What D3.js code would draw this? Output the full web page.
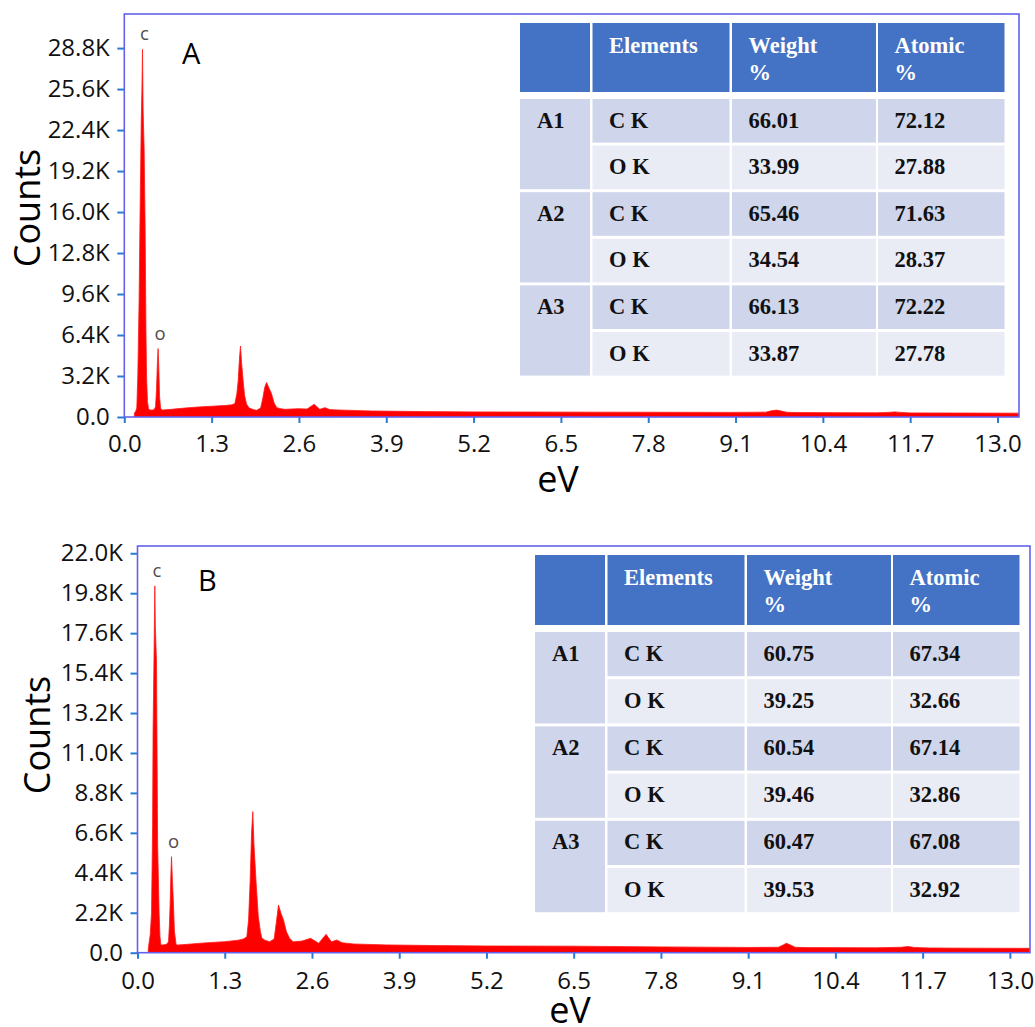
<!DOCTYPE html>
<html>
<head>
<meta charset="utf-8">
<script src="https://cdn.jsdelivr.net/npm/d3@7"></script>
<style>
  html, body { margin: 0; padding: 0; background: #fff; }
  svg { display: block; }
</style>
</head>
<body>
<svg id="chart" width="1035" height="1027"></svg>
<script>
// ---------- EDS spectrum A (energy in eV, intensity in counts) ----------
const energyA = [0.150, 0.170, 0.186, 0.201, 0.220, 0.235, 0.252, 0.262, 0.271, 0.280, 0.295, 0.310, 0.322, 0.331, 0.345, 0.360, 0.380, 0.420, 0.445, 0.465, 0.480, 0.493, 0.503, 0.513, 0.525, 0.540, 0.560, 0.700, 0.900, 1.100, 1.300, 1.500, 1.600, 1.646, 1.675, 1.695, 1.715, 1.730, 1.745, 1.770, 1.790, 1.820, 1.860, 1.920, 1.970, 2.030, 2.060, 2.090, 2.118, 2.150, 2.190, 2.230, 2.270, 2.330, 2.390, 2.590, 2.720, 2.827, 2.910, 2.986, 3.060, 3.180, 3.680, 4.500, 5.200, 6.000, 7.000, 8.000, 9.000, 9.550, 9.630, 9.710, 9.780, 9.860, 10.000, 10.600, 11.200, 11.370, 11.470, 11.560, 11.700, 12.500, 13.320];
const countsA = [300, 450, 700, 3200, 9000, 16000, 23000, 25500, 28700, 24000, 21000, 15000, 7000, 3200, 1200, 650, 550, 540, 580, 800, 2200, 4300, 5340, 4000, 1600, 700, 540, 600, 700, 780, 840, 900, 950, 1050, 1800, 2800, 4600, 5540, 4300, 2800, 1700, 1000, 700, 580, 520, 700, 1400, 2300, 2700, 2300, 1850, 1100, 730, 650, 600, 650, 620, 1000, 600, 730, 580, 550, 470, 420, 400, 390, 380, 370, 360, 380, 480, 540, 470, 370, 350, 340, 330, 360, 400, 360, 320, 310, 300];

// ---------- EDS spectrum B ----------
const energyB = [0.160, 0.168, 0.190, 0.209, 0.225, 0.232, 0.247, 0.258, 0.266, 0.283, 0.290, 0.300, 0.322, 0.335, 0.347, 0.370, 0.420, 0.445, 0.462, 0.475, 0.486, 0.498, 0.507, 0.515, 0.536, 0.550, 0.575, 0.600, 0.800, 1.000, 1.300, 1.500, 1.580, 1.629, 1.655, 1.678, 1.700, 1.718, 1.735, 1.767, 1.800, 1.830, 1.852, 1.900, 1.970, 2.036, 2.070, 2.101, 2.140, 2.176, 2.220, 2.265, 2.320, 2.450, 2.580, 2.700, 2.810, 2.890, 2.970, 3.050, 3.220, 3.710, 4.500, 5.200, 6.500, 7.800, 9.100, 9.550, 9.620, 9.670, 9.730, 9.800, 10.000, 11.000, 11.380, 11.480, 11.580, 11.800, 12.500, 13.300];
const countsB = [200, 420, 1000, 2200, 7000, 12200, 16600, 20200, 18000, 16000, 12000, 6000, 2200, 900, 450, 420, 450, 500, 620, 1500, 2650, 4400, 5290, 4500, 2650, 1200, 450, 420, 480, 540, 610, 690, 760, 880, 1800, 3900, 6600, 7770, 6000, 3900, 2000, 1200, 810, 680, 610, 750, 1700, 2630, 2150, 1800, 1150, 800, 600, 640, 790, 520, 1010, 600, 700, 550, 480, 430, 390, 370, 360, 320, 290, 300, 420, 520, 430, 300, 280, 270, 300, 340, 290, 260, 250, 240];

// ---------- axis ticks ----------
const xTicks = [0.0, 1.3, 2.6, 3.9, 5.2, 6.5, 7.8, 9.1, 10.4, 11.7, 13.0];
const yTicksA = [0, 3200, 6400, 9600, 12800, 16000, 19200, 22400, 25600, 28800];
const yTicksB = [0, 2200, 4400, 6600, 8800, 11000, 13200, 15400, 17600, 19800, 22000];

// ---------- peak markers (label, nominal line energy in eV) ----------
const peakLabels = ["c", "o"];
const peakLineEnergies = [0.277, 0.525];

// ---------- quantification tables ----------
const tableHeader = [[""], ["Elements"], ["Weight", "%"], ["Atomic", "%"]];
const tableSites = ["A1", "A2", "A3"];
const tableElements = ["C K", "O K"];
const weightA = [66.01, 33.99, 65.46, 34.54, 66.13, 33.87];
const atomicA = [72.12, 27.88, 71.63, 28.37, 72.22, 27.78];
const weightB = [60.75, 39.25, 60.54, 39.46, 60.47, 39.53];
const atomicB = [67.34, 32.66, 67.14, 32.86, 67.08, 32.92];

// ---------- layout ----------
const panels = [
  {
    name: "A", energy: energyA, counts: countsA, yTicks: yTicksA,
    xMax: 13.32, yMax: 31460,
    box: { left: 124.3, top: 14, right: 1019, bottom: 417 },
    xLabelPad: 12, countsPos: [40, 208], evPos: [558, 492], letterPos: [182, 63.5],
    weight: weightA, atomic: atomicA,
    table: { x: 520, y: 23, headH: 69, bodyY: 99, pitch: 46.6 }
  },
  {
    name: "B", energy: energyB, counts: countsB, yTicks: yTicksB,
    xMax: 13.30, yMax: 22400,
    box: { left: 137.5, top: 546, right: 1030, bottom: 952.7 },
    xLabelPad: 13.5, countsPos: [50, 735], evPos: [570, 1023], letterPos: [198, 591],
    weight: weightB, atomic: atomicB,
    table: { x: 535, y: 555, headH: 70, bodyY: 632, pitch: 47.2 }
  }
];

const colOffsets = [0, 72.5, 212, 358];
const colWidths = [70, 137, 144, 126.5];

const FRAME = "#6262ee";
const TICK = "#2a7bd3";
const SANS = "'Open Sans', 'DejaVu Sans', sans-serif";
const SERIF = "'Liberation Serif', 'Times New Roman', serif";
const HEAD_BLUE = "#4472c4";
const ROW_DARK = "#cfd5ea";
const ROW_LIGHT = "#e9ebf5";

const svg = d3.select("#chart");
svg.append("rect").attr("width", 1035).attr("height", 1027).attr("fill", "#fff");

const fmtY = v => v === 0 ? "0.0" : (v / 1000).toFixed(1) + "K";

panels.forEach((p) => {
  const b = p.box;
  const x = d3.scaleLinear().domain([0, p.xMax]).range([b.left, b.right]);
  const y = d3.scaleLinear().domain([0, p.yMax]).range([b.bottom, b.top]);
  const g = svg.append("g");

  const clipId = "clip" + p.name;
  g.append("clipPath").attr("id", clipId)
    .append("rect").attr("x", b.left).attr("y", b.top)
    .attr("width", b.right - b.left).attr("height", b.bottom - b.top);

  const pts = p.energy.map((e, i) => ({ e, c: p.counts[i] }));

  // spectrum
  const area = d3.area()
    .x(d => x(d.e)).y0(y(0)).y1(d => y(d.c))
    .curve(d3.curveLinear);
  g.append("path").datum(pts)
    .attr("clip-path", `url(#${clipId})`)
    .attr("d", area)
    .attr("fill", "#ff0000")
    .attr("stroke", "#ff1a1a").attr("stroke-width", 0.8);

  // peak labels
  peakLabels.forEach((lab, k) => {
    const near = pts.filter(d => Math.abs(d.e - peakLineEnergies[k]) < 0.06);
    const top = near.reduce((a, d) => d.c > a.c ? d : a, near[0]);
    g.append("text")
      .attr("x", x(top.e) + 2).attr("y", y(top.c) - 16.5)
      .attr("text-anchor", "middle").attr("dominant-baseline", "central")
      .attr("font-family", SANS).attr("font-size", 18.5).attr("fill", "#4d4d4d")
      .text(lab);
  });

  // axes
  const xAxis = d3.axisBottom(x).tickValues(xTicks)
    .tickFormat(d => d.toFixed(1)).tickSize(6).tickPadding(p.xLabelPad).tickSizeOuter(0);
  const gx = g.append("g").attr("transform", `translate(0,${b.bottom})`).call(xAxis);

  const yAxis = d3.axisLeft(y).tickValues(p.yTicks)
    .tickFormat(fmtY).tickSize(7).tickPadding(7.5).tickSizeOuter(0);
  const gy = g.append("g").attr("transform", `translate(${b.left},0)`).call(yAxis);

  [gx, gy].forEach(a => {
    a.select(".domain").remove();
    a.selectAll(".tick line").attr("stroke", TICK).attr("stroke-width", 2);
    a.selectAll(".tick text").attr("fill", "#111")
      .attr("font-family", SANS).attr("font-size", 24);
  });

  // plot frame
  g.append("rect")
    .attr("x", b.left).attr("y", b.top)
    .attr("width", b.right - b.left).attr("height", b.bottom - b.top)
    .attr("fill", "none").attr("stroke", FRAME).attr("stroke-width", 1.6);

  // axis titles
  g.append("text")
    .attr("transform", `translate(${p.countsPos[0]},${p.countsPos[1]}) rotate(-90)`)
    .attr("text-anchor", "middle")
    .attr("font-family", SANS).attr("font-size", 36).attr("fill", "#000")
    .text("Counts");
  g.append("text")
    .attr("x", p.evPos[0]).attr("y", p.evPos[1])
    .attr("text-anchor", "middle")
    .attr("font-family", SANS).attr("font-size", 36).attr("fill", "#000")
    .text("eV");

  // panel letter
  g.append("text")
    .attr("x", p.letterPos[0]).attr("y", p.letterPos[1])
    .attr("font-family", SANS).attr("font-size", 29).attr("fill", "#000")
    .text(p.name);

  // quantification table
  const t = p.table;
  const tg = g.append("g");
  const rowH = t.pitch - 3;
  const rowTop = r => t.bodyY + r * t.pitch;

  tableHeader.forEach((lines, c) => {
    tg.append("rect")
      .attr("x", t.x + colOffsets[c]).attr("y", t.y)
      .attr("width", colWidths[c]).attr("height", t.headH)
      .attr("fill", HEAD_BLUE);
    const txt = tg.append("text")
      .attr("font-family", SERIF).attr("font-weight", "bold")
      .attr("font-size", 22.5).attr("fill", "#fff");
    lines.forEach((ln, li) => {
      txt.append("tspan")
        .attr("x", t.x + colOffsets[c] + 16.5)
        .attr("y", t.y + 30 + li * 27)
        .text(ln);
    });
  });

  const nRows = tableSites.length * tableElements.length;
  for (let r = 0; r < nRows; r++) {
    const fill = r % 2 === 0 ? ROW_DARK : ROW_LIGHT;
    const vals = [tableElements[r % 2], p.weight[r].toFixed(2), p.atomic[r].toFixed(2)];
    vals.forEach((v, k) => {
      const c = k + 1;
      tg.append("rect")
        .attr("x", t.x + colOffsets[c]).attr("y", rowTop(r))
        .attr("width", colWidths[c]).attr("height", rowH)
        .attr("fill", fill);
      tg.append("text")
        .attr("x", t.x + colOffsets[c] + 16.5).attr("y", rowTop(r) + 28.5)
        .attr("font-family", SERIF).attr("font-weight", "bold")
        .attr("font-size", 22.5).attr("fill", "#111")
        .text(v);
    });
  }

  tableSites.forEach((s, i) => {
    const r0 = i * 2;
    tg.append("rect")
      .attr("x", t.x + colOffsets[0]).attr("y", rowTop(r0))
      .attr("width", colWidths[0]).attr("height", rowTop(r0 + 1) + rowH - rowTop(r0))
      .attr("fill", ROW_DARK);
    tg.append("text")
      .attr("x", t.x + colOffsets[0] + 17).attr("y", rowTop(r0) + 28.5)
      .attr("font-family", SERIF).attr("font-weight", "bold")
      .attr("font-size", 22.5).attr("fill", "#111")
      .text(s);
  });
});
</script>
</body>
</html>
